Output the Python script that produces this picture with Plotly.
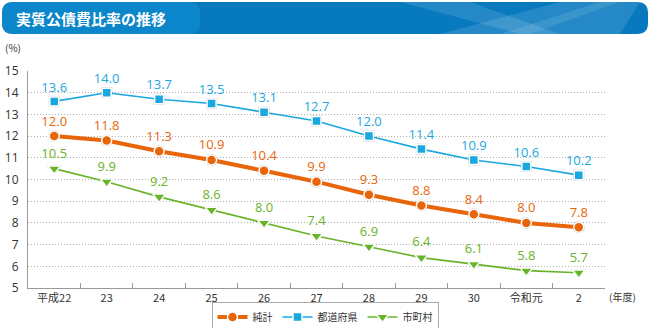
import plotly.graph_objects as go

categories = ["平成22", "23", "24", "25", "26", "27", "28", "29", "30", "令和元", "2"]
total = [12.0, 11.8, 11.3, 10.9, 10.4, 9.9, 9.3, 8.8, 8.4, 8.0, 7.8]
prefectures = [13.6, 14.0, 13.7, 13.5, 13.1, 12.7, 12.0, 11.4, 10.9, 10.6, 10.2]
municipalities = [10.5, 9.9, 9.2, 8.6, 8.0, 7.4, 6.9, 6.4, 6.1, 5.8, 5.7]
y_ticks = [5, 6, 7, 8, 9, 10, 11, 12, 13, 14, 15]

W, H = 650, 328
L, R, T, B = 28, 45, 71, 40
PW, PH = W - L - R, H - T - B

def px(x):
    return (x - L) / PW

def py(y):
    return (H - B - y) / PH

ORANGE = "#e8650a"
BLUE = "#1aa8e0"
GREEN = "#69b32a"
FONT = "Noto Sans CJK JP"

fig = go.Figure()

series = [
    ("純計", total, ORANGE, 4, "circle", 10),
    ("都道府県", prefectures, BLUE, 1.6, "square", 9),
    ("市町村", municipalities, GREEN, 1.6, "triangle-down", 11),
]

for name, vals, col, lw, sym, ms in series:
    fig.add_trace(go.Scatter(
        x=categories, y=vals, mode="markers", showlegend=False, hoverinfo="skip",
        marker=dict(symbol=sym, size=ms + 2, color="#c4c4c4", line=dict(width=0)),
    ))
    fig.add_trace(go.Scatter(
        x=categories, y=vals, name=name, mode="lines+markers+text",
        line=dict(color=col, width=lw),
        marker=dict(symbol=sym, size=ms, color=col, line=dict(color="white", width=1.5)),
        text=[f"{v:.1f}" for v in vals], textposition="top center",
        textfont=dict(color=col, size=13, family="Open Sans"),
        cliponaxis=False,
    ))

def rounded_rect(x0, y0, x1, y1, r):
    def P(x, y):
        return f"{px(x):.5f},{py(y):.5f}"
    return (f"M {P(x0 + r, y0)} L {P(x1 - r, y0)} Q {P(x1, y0)} {P(x1, y0 + r)} "
            f"L {P(x1, y1 - r)} Q {P(x1, y1)} {P(x1 - r, y1)} "
            f"L {P(x0 + r, y1)} Q {P(x0, y1)} {P(x0, y1 - r)} "
            f"L {P(x0, y0 + r)} Q {P(x0, y0)} {P(x0 + r, y0)} Z")

def poly(points):
    return "M " + " L ".join(f"{px(x):.5f},{py(y):.5f}" for x, y in points) + " Z"

shapes = [
    dict(type="path", xref="paper", yref="paper", path=rounded_rect(2, 2, 648, 34, 11),
         fillcolor="#0679bf", line=dict(width=0), layer="above"),
    dict(type="path", xref="paper", yref="paper", path=rounded_rect(2, 2, 200, 34, 11),
         fillcolor="rgba(20,150,215,0.45)", line=dict(width=0), layer="above"),
    dict(type="path", xref="paper", yref="paper",
         path=poly([(400, 2), (470, 2), (560, 34), (520, 34)]),
         fillcolor="rgba(255,255,255,0.12)", line=dict(width=0), layer="above"),
    dict(type="path", xref="paper", yref="paper",
         path=poly([(440, 34), (560, 2), (640, 2), (620, 34)]),
         fillcolor="rgba(255,255,255,0.12)", line=dict(width=0), layer="above"),
    dict(type="path", xref="paper", yref="paper",
         path=poly([(500, 34), (600, 2), (620, 2), (530, 34)]),
         fillcolor="rgba(255,255,255,0.10)", line=dict(width=0), layer="above"),
]

annotations = [
    dict(text="<b>実質公債費比率の推移</b>", x=px(14), y=py(18), xref="paper", yref="paper",
         xanchor="left", yanchor="middle", showarrow=False,
         font=dict(color="white", size=15, family=FONT)),
    dict(text="(%)", x=px(13), y=py(47), xref="paper", yref="paper",
         xanchor="center", yanchor="middle", showarrow=False,
         font=dict(color="#333", size=10, family=FONT)),
    dict(text="(年度)", x=px(622), y=py(296), xref="paper", yref="paper",
         xanchor="center", yanchor="middle", showarrow=False,
         font=dict(color="#333", size=10, family=FONT)),
]

fig.update_layout(
    width=W, height=H,
    margin=dict(l=L, r=R, t=T, b=B, autoexpand=False),
    paper_bgcolor="white", plot_bgcolor="white",
    font=dict(family=FONT, color="#333"),
    shapes=shapes, annotations=annotations,
    showlegend=True,
    legend=dict(orientation="h", x=0.5, xanchor="center",
                y=(H - 317) / H, yanchor="middle",
                xref="container", yref="container",
                bordercolor="#aaaaaa", borderwidth=1, font=dict(size=10, family=FONT),
                itemwidth=30, tracegroupgap=0),
    xaxis=dict(type="category", range=[-0.5, 10.5], showgrid=False,
               showline=True, linecolor="#999", linewidth=1,
               ticks="inside", tickson="boundaries", ticklen=5, tickcolor="#999",
               tickfont=dict(size=11, color="#333", family=FONT), fixedrange=True),
    yaxis=dict(range=[5, 15], tickvals=y_ticks, showgrid=True, gridcolor="#b0b0b0",
               griddash="1px,2px", gridwidth=1, zeroline=False,
               showline=True, linecolor="#999", linewidth=1, ticks="",
               ticklabelstandoff=6,
               tickfont=dict(size=12, color="#333", family="Open Sans"), fixedrange=True),
)

fig.write_html("out.html")
